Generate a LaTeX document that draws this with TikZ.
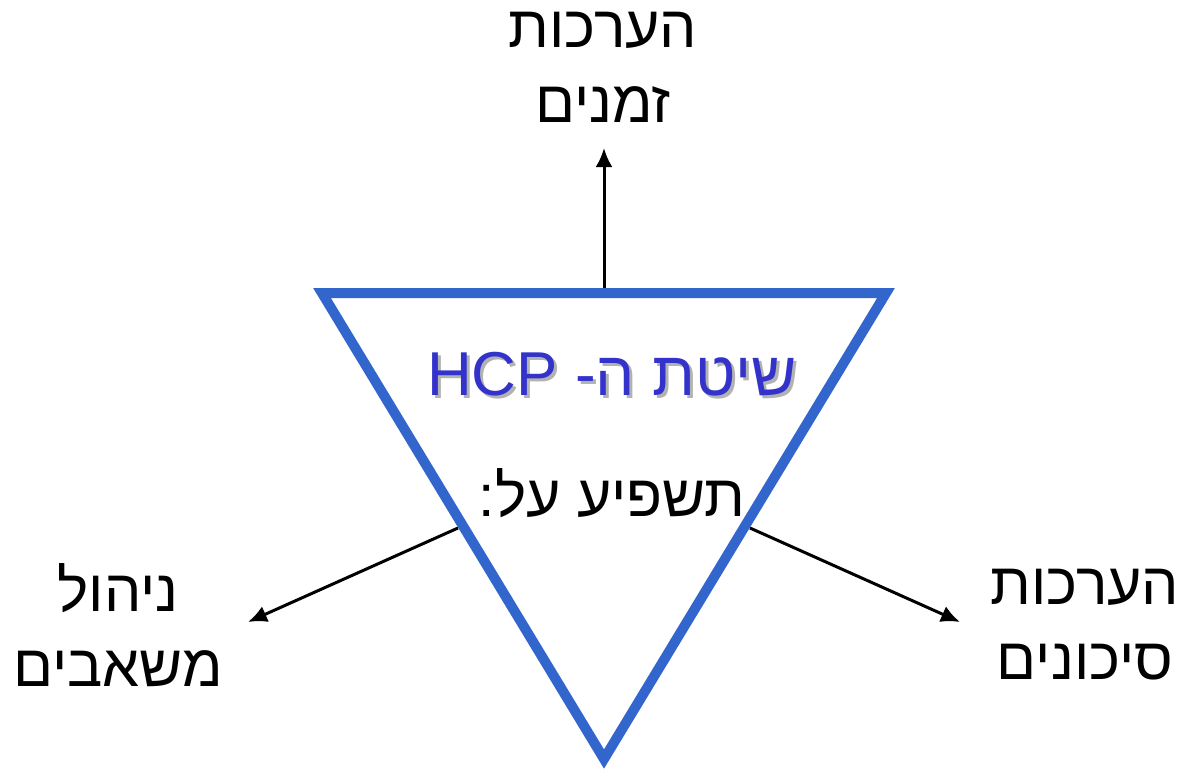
\documentclass[tikz,border=0pt]{standalone}
\usepackage{fontspec}
\setmainfont{Liberation Sans}
\newfontfamily\heb[Script=Hebrew]{Liberation Sans}
\TeXXeTstate=1
\usetikzlibrary{arrows.meta}
\definecolor{triblue}{HTML}{3366CC}
\definecolor{hcpblue}{HTML}{3333CC}
\tikzset{
  lbl/.style={font=\heb\fontsize{59}{75}\selectfont, align=center, inner sep=0pt},
  ttl/.style={font=\heb\fontsize{62}{62}\selectfont, inner sep=0pt},
  arr/.style={line width=3pt, -{Latex[length=19pt,width=17pt]}},
}
\begin{document}
\begin{tikzpicture}[x=1pt,y=-1pt]
\useasboundingbox (0,0) rectangle (1180,772);
\coordinate (A) at (322,293);
\coordinate (B) at (886,293);
\coordinate (C) at (604,759);
\draw[triblue, line width=10pt, miter limit=10] (A) -- (B) -- (C) -- cycle;
% title with shadow
\node[ttl, text=gray!60] (shadow) at (615,377) {\beginR שיטת ה- \beginL HCP\endL\endR};
\node[ttl, text=hcpblue] (title) at (612,374) {\beginR שיטת ה- \beginL HCP\endL\endR};
\node[lbl] (sub) at (612,493) {\beginR תשפיע על:\endR};
% labels
\node[lbl] (top) at (603,67) {\beginR הערכות\endR\\\beginR זמנים\endR};
\node[lbl] (left) at (118,625) {\beginR ניהול\endR\\\beginR משאבים\endR};
\node[lbl] (right) at (1085,625) {\beginR הערכות\endR\\\beginR סיכונים\endR};
% arrows
\coordinate (t0) at (604,288);
\coordinate (t1) at (604,148);
\coordinate (l0) at (458,528);
\coordinate (l1) at (248,622);
\coordinate (r0) at (750,528);
\coordinate (r1) at (960,622);
\draw[arr] (t0) -- (t1);
\draw[arr] (l0) -- (l1);
\draw[arr] (r0) -- (r1);
\end{tikzpicture}
\end{document}
